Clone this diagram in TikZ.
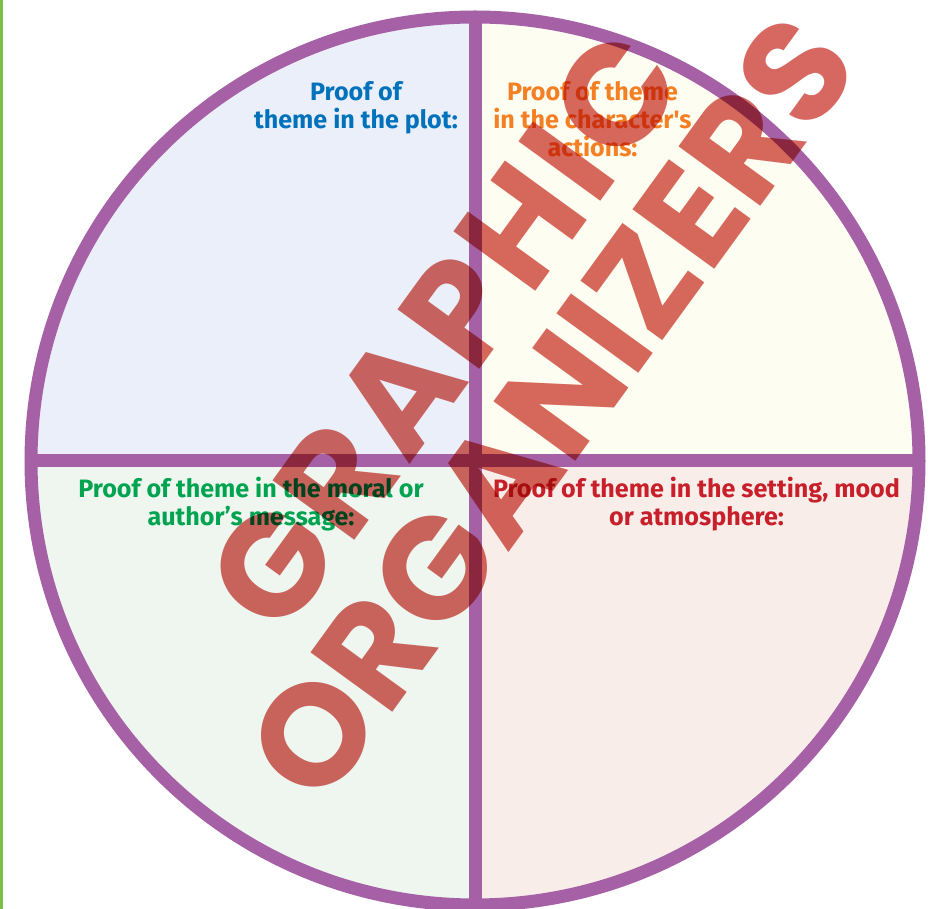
\documentclass[tikz,border=0pt]{standalone}
\usepackage{fontspec}
\usepackage{tikz}
\usetikzlibrary{positioning}

\newfontfamily\promptfont{Fira Sans}
\newfontfamily\stampfont{Poppins}

\definecolor{rimpurple}{RGB}{166,96,166}
\definecolor{edgegreen}{RGB}{122,192,72}
\definecolor{plotfill}{RGB}{235,239,249}
\definecolor{actionfill}{RGB}{254,253,242}
\definecolor{moralfill}{RGB}{239,246,240}
\definecolor{settingfill}{RGB}{249,237,233}
\definecolor{plotblue}{RGB}{0,114,188}
\definecolor{actionorange}{RGB}{245,128,36}
\definecolor{moralgreen}{RGB}{0,163,80}
\definecolor{settingred}{RGB}{200,32,42}
\definecolor{stampred}{RGB}{210,88,80}

\begin{document}
\begin{tikzpicture}[
    rim/.style={draw=rimpurple, line width=0.26cm},
    prompt/.style={font=\promptfont\bfseries\fontsize{14.3}{16.1}\selectfont,
        align=center, inner sep=0pt, anchor=base},
    stamp/.style={font=\stampfont\bfseries\fontsize{82}{75}\selectfont,
        text=stampred, align=center, inner sep=0pt, rotate=54}
]
    % Page
    \useasboundingbox (0,0) rectangle (18.78,18.18);
    \fill[white] (0,0) rectangle (18.78,18.18);
    \fill[edgegreen] (0,0) rectangle (0.06,18.18);

    % Quarters
    \coordinate (c) at (9.5,8.96);
    \fill[plotfill] (c) -- ++(0,8.88) arc (90:180:8.88) -- cycle;
    \fill[actionfill] (c) -- ++(8.88,0) arc (0:90:8.88) -- cycle;
    \fill[moralfill] (c) -- ++(-8.88,0) arc (180:270:8.88) -- cycle;
    \fill[settingfill] (c) -- ++(0,-8.88) arc (270:360:8.88) -- cycle;

    % Rim and cross
    \coordinate (top) at (9.5,17.84);
    \coordinate (bottom) at (9.5,0.08);
    \coordinate (left) at (0.62,8.96);
    \coordinate (right) at (18.38,8.96);
    \draw[rim] (c) circle (8.88);
    \draw[rim] (left) -- (right);
    \draw[rim] (top) -- (bottom);

    % Prompts (base = last line)
    \node[prompt, plotblue] (plot) at (7.12,15.6) {Proof of\\theme in the plot:};
    \node[prompt, actionorange] (action) at (11.85,15.04)
        {Proof of theme\\in the character\textquotesingle s\\actions:};
    \node[prompt, moralgreen] (moral) at (5.02,7.66)
        {Proof of theme in the moral or\\author’s message:};
    \node[prompt, settingred] (setting) at (13.93,7.66)
        {Proof of theme in the setting, mood\\or atmosphere:};

    % Stamp, multiplied over the rest
    \begin{scope}[blend mode=multiply, opacity=0.9]
        \node[stamp] (banner) at (9.95,10.78)
            {{\addfontfeature{LetterSpace=4}GRAPHIC}\\ORGANIZERS};
    \end{scope}
\end{tikzpicture}
\end{document}
